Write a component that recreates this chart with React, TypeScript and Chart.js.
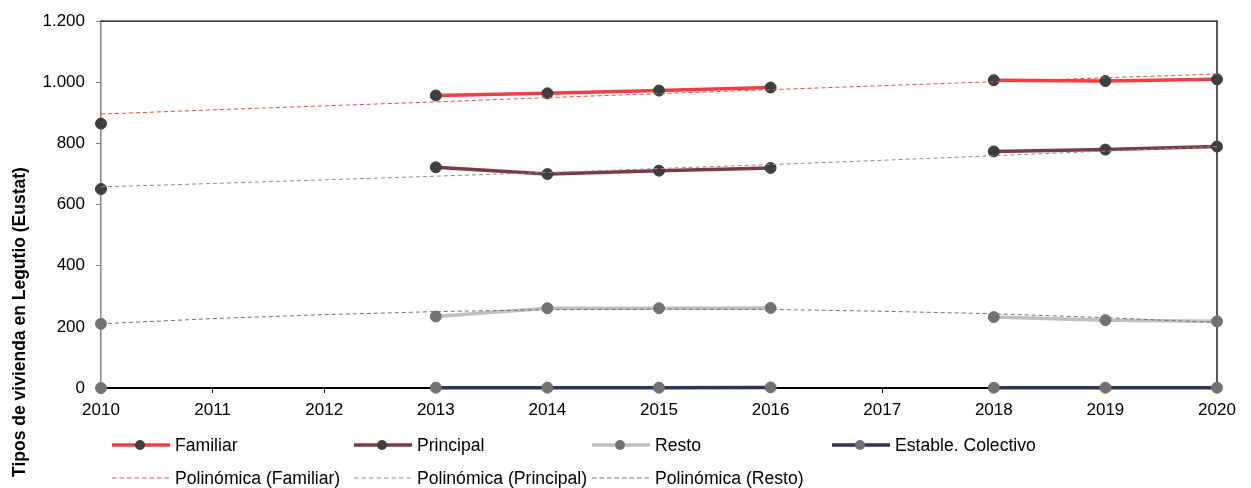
import { useEffect, useRef } from "react";
import { Chart, registerables } from "chart.js";

Chart.register(...registerables);

const years = ["2010", "2011", "2012", "2013", "2014", "2015", "2016", "2017", "2018", "2019", "2020"];
const familiar = [865, null, null, 957, 964, 973, 983, null, 1007, 1004, 1010];
const principal = [651, null, null, 722, 700, 711, 720, null, 774, 780, 790];
const resto = [210, null, null, 234, 261, 261, 262, null, 232, 222, 218];
const colectivo = [0, null, null, 1, 1, 1, 2, null, 1, 1, 1];
const trendFamiliar = [896, 910, 923, 936, 950, 963, 976, 989, 1002, 1015, 1027];
const trendPrincipal = [658, 669, 681, 693, 705, 718, 731, 745, 760, 775, 790];
const trendResto = [210, 227, 240, 250, 256, 258, 257, 251, 243, 230, 214];
const yMin = 0;
const yMax = 1200;
const yStep = 200;
const yTitle = "Tipos de vivienda en Legutio (Eustat)";

const FONT = "'Liberation Sans', Arial, sans-serif";

type LegendItem = { label: string; color: string; marker?: string; dashed?: boolean; col: number; row: number };
const legendItems: LegendItem[] = [
  { label: "Familiar", color: "#EE3F44", marker: "#3F3F3F", col: 0, row: 0 },
  { label: "Principal", color: "#7A3A46", marker: "#3F3F3F", col: 1, row: 0 },
  { label: "Resto", color: "#BFBFBF", marker: "#767171", col: 2, row: 0 },
  { label: "Estable. Colectivo", color: "#2F3558", marker: "#767171", col: 3, row: 0 },
  { label: "Polinómica (Familiar)", color: "#F04848", dashed: true, col: 0, row: 1 },
  { label: "Polinómica (Principal)", color: "#8C8C8C", dashed: true, col: 1, row: 1 },
  { label: "Polinómica (Resto)", color: "#707070", dashed: true, col: 2, row: 1 },
];
const legendCols = [112, 354, 592, 832];
const legendRows = [445, 478];

const fmt = (v: number) => String(v).replace(/\B(?=(\d{3})+(?!\d))/g, ".");

export default function App() {
  const ref = useRef<HTMLCanvasElement | null>(null);
  useEffect(() => {
    document.body.style.margin = "0";
    const canvas = ref.current;
    if (!canvas) return;

    const framePlugin = {
      id: "frame",
      beforeDatasetsDraw(chart: any) {
        const { ctx, chartArea } = chart;
        ctx.save();
        ctx.strokeStyle = "#000";
        ctx.lineWidth = 1.3;
        ctx.beginPath();
        ctx.moveTo(chartArea.left, chartArea.top);
        ctx.lineTo(chartArea.right, chartArea.top);
        ctx.lineTo(chartArea.right, chartArea.bottom);
        ctx.stroke();
        ctx.restore();
      },
      afterDraw(chart: any) {
        const { ctx } = chart;
        ctx.save();
        // y title
        ctx.translate(20, 322);
        ctx.rotate(-Math.PI / 2);
        ctx.font = `bold 17.5px ${FONT}`;
        ctx.fillStyle = "#000";
        ctx.textAlign = "center";
        ctx.textBaseline = "middle";
        ctx.fillText(yTitle, 0, 0);
        ctx.restore();
        // legend
        ctx.save();
        ctx.font = `17.6px ${FONT}`;
        ctx.textBaseline = "middle";
        ctx.textAlign = "left";
        for (const it of legendItems) {
          const x0 = legendCols[it.col];
          const y = legendRows[it.row];
          ctx.beginPath();
          ctx.strokeStyle = it.color;
          if (it.dashed) {
            ctx.lineWidth = 1.2;
            ctx.setLineDash([4.5, 3]);
          } else {
            ctx.lineWidth = 3.5;
            ctx.setLineDash([]);
          }
          ctx.moveTo(x0, y);
          ctx.lineTo(x0 + 58, y);
          ctx.stroke();
          ctx.setLineDash([]);
          if (it.marker) {
            ctx.beginPath();
            ctx.fillStyle = it.marker;
            ctx.arc(x0 + 28, y, 5, 0, Math.PI * 2);
            ctx.fill();
          }
          ctx.fillStyle = "#000";
          ctx.fillText(it.label, x0 + 63, y + 1);
        }
        ctx.restore();
      },
    };

    const dataStyle = (borderColor: string, pointColor: string) => ({
      borderColor,
      backgroundColor: borderColor,
      borderWidth: 3.5,
      pointRadius: 5.5,
      pointBorderWidth: 1,
      pointBackgroundColor: pointColor,
      pointBorderColor: pointColor,
      spanGaps: false,
      clip: false as any,
      order: 1,
    });
    const trendStyle = (borderColor: string) => ({
      borderColor,
      backgroundColor: borderColor,
      borderWidth: 1,
      borderDash: [4, 3],
      pointRadius: 0,
      clip: false as any,
      order: 0,
    });

    const chart = new Chart(canvas, {
      type: "line",
      data: {
        labels: years,
        datasets: [
          { label: "Familiar", data: familiar, ...dataStyle("#EE3F44", "#3F3F3F") },
          { label: "Principal", data: principal, ...dataStyle("#7A3A46", "#3F3F3F") },
          { label: "Resto", data: resto, ...dataStyle("#BFBFBF", "#767171") },
          { label: "Estable. Colectivo", data: colectivo, ...dataStyle("#2F3558", "#767171") },
          { label: "Polinómica (Familiar)", data: trendFamiliar, ...trendStyle("#F04848") },
          { label: "Polinómica (Principal)", data: trendPrincipal, ...trendStyle("#8C8C8C") },
          { label: "Polinómica (Resto)", data: trendResto, ...trendStyle("#707070") },
        ],
      },
      options: {
        responsive: false,
        animation: false,
        devicePixelRatio: 1,
        layout: { padding: { top: 19, right: 34, left: 0, bottom: 0 } },
        plugins: { legend: { display: false }, tooltip: { enabled: false } },
        scales: {
          x: {
            type: "category",
            offset: false,
            afterFit: (s: any) => {
              s.height = 100;
            },
            grid: { display: true, drawOnChartArea: false, drawTicks: true, tickLength: 5, color: "#000", lineWidth: 1 },
            border: { display: true, color: "#000", width: 2 },
            ticks: { font: { family: FONT, size: 17 }, color: "#000", padding: 7, maxRotation: 0, autoSkip: false },
          },
          y: {
            min: yMin,
            max: yMax,
            afterFit: (s: any) => {
              s.width = 101;
            },
            grid: { display: true, drawOnChartArea: false, drawTicks: true, tickLength: 5, color: "#868686", lineWidth: 1 },
            border: { display: true, color: "#868686", width: 1.5 },
            ticks: {
              stepSize: yStep,
              font: { family: FONT, size: 17 },
              color: "#000",
              padding: 11,
              callback: (v: any) => fmt(Number(v)),
            },
          },
        },
      },
      plugins: [framePlugin],
    });
    return () => chart.destroy();
  }, []);

  return (
    <div style={{ width: 1251, height: 488 }}>
      <canvas ref={ref} width={1251} height={488} style={{ display: "block", width: 1251, height: 488 }} />
    </div>
  );
}
